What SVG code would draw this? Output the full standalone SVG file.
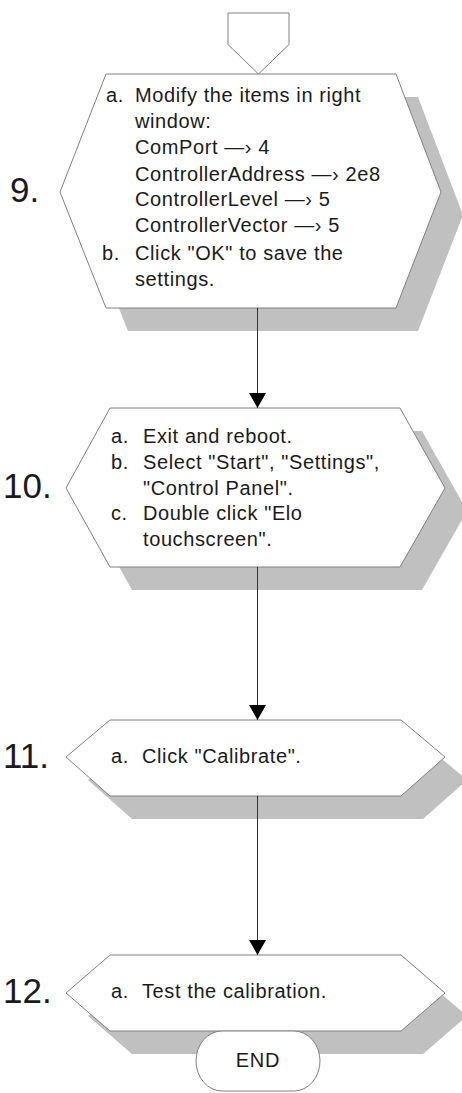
<svg xmlns="http://www.w3.org/2000/svg" width="462" height="1093" viewBox="0 0 462 1093">
<style>
.bg{fill:#ffffff}
.shape{fill:#ffffff;stroke:#808080;stroke-width:1}
.shadow{fill:#c0c0c0;stroke:none}
.conn{stroke:#333333;stroke-width:1;fill:none}
.t{font-family:"Liberation Sans",Arial,sans-serif;font-size:20px;letter-spacing:0.6px;fill:#1a1a1a}
.num{font-family:"Liberation Sans",Arial,sans-serif;font-size:35px;fill:#1a1a1a}
.end{font-family:"Liberation Sans",Arial,sans-serif;font-size:20px;letter-spacing:0.8px;fill:#1a1a1a;text-anchor:middle}
</style>
<defs>
<marker id="arrow" viewBox="0 0 15 17" refX="15" refY="8.5" markerWidth="15" markerHeight="17" markerUnits="userSpaceOnUse" orient="auto">
<path d="M0,0 L15,8.5 L0,17 z" fill="#000000"/>
</marker>
</defs>
<rect class="bg" x="0" y="0" width="462" height="1093"/>

<g id="start-connector">
<polygon class="shape" points="228,13 289,13 289,44.5 258.5,74 228,44.5"/>
</g>

<g id="step9">
<polygon class="shadow" points="128,97 418,97 463,215 418,331 128,331 82,215"/>
<polygon class="shape" points="106,74 396,74 441,192 396,308 106,308 60,192"/>
<text class="num" x="10" y="202">9.</text>
<text class="t" x="106" y="102">a.</text>
<text class="t" x="135" y="102">Modify the items in right</text>
<text class="t" x="135" y="128">window:</text>
<text class="t" x="135" y="154">ComPort —› 4</text>
<text class="t" x="135" y="180.5">ControllerAddress —› 2e8</text>
<text class="t" x="135" y="206">ControllerLevel —› 5</text>
<text class="t" x="135" y="232">ControllerVector —› 5</text>
<text class="t" x="102" y="260">b.</text>
<text class="t" x="135" y="260">Click "OK" to save the</text>
<text class="t" x="135" y="286">settings.</text>
</g>

<g id="step10">
<polygon class="shadow" points="132,431 422,431 467,511 422,590 132,590 88,511"/>
<polygon class="shape" points="110,408 400,408 445,488 400,567 110,567 66,488"/>
<text class="num" x="3" y="498">10.</text>
<text class="t" x="111" y="443">a.</text>
<text class="t" x="143" y="443">Exit and reboot.</text>
<text class="t" x="111" y="468.5">b.</text>
<text class="t" x="143" y="468.5">Select "Start", "Settings",</text>
<text class="t" x="143" y="494.5">"Control Panel".</text>
<text class="t" x="111" y="520">c.</text>
<text class="t" x="143" y="520">Double click "Elo</text>
<text class="t" x="143" y="546">touchscreen".</text>
</g>

<g id="step11">
<polygon class="shadow" points="132,743 423,743 467,780 423,819 132,819 88,780"/>
<polygon class="shape" points="110,720 401,720 445,757 401,796 110,796 66,757"/>
<text class="num" x="3" y="768">11.</text>
<text class="t" x="111" y="763">a.</text>
<text class="t" x="142" y="763">Click "Calibrate".</text>
</g>

<g id="step12">
<polygon class="shadow" points="132,978 423,978 467,1016 423,1054 132,1054 88,1016"/>
<polygon class="shape" points="110,955 401,955 445,993 401,1031 110,1031 66,993"/>
<text class="num" x="3" y="1003">12.</text>
<text class="t" x="111" y="998">a.</text>
<text class="t" x="142" y="998">Test the calibration.</text>
</g>

<g id="end">
<rect class="shape" x="196" y="1031" width="124" height="60" rx="26" ry="30"/>
<text class="end" x="258" y="1067">END</text>
</g>

<g id="connectors">
<line class="conn" x1="257.5" y1="308" x2="257.5" y2="408" marker-end="url(#arrow)"/>
<line class="conn" x1="257.5" y1="567" x2="257.5" y2="720" marker-end="url(#arrow)"/>
<line class="conn" x1="257.5" y1="796" x2="257.5" y2="955" marker-end="url(#arrow)"/>
</g>
</svg>
